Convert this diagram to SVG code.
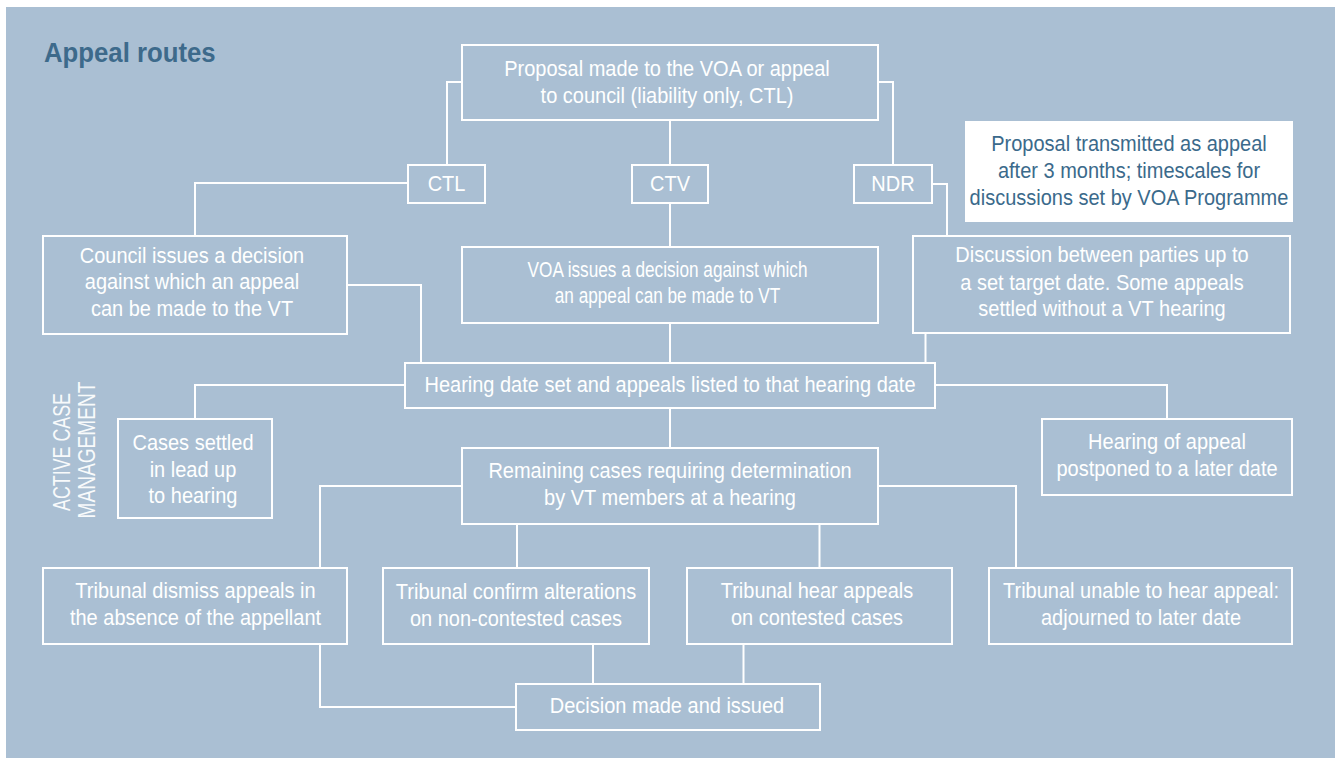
<svg xmlns="http://www.w3.org/2000/svg" width="1335" height="758" viewBox="0 0 1335 758">
<style>
.bg{fill:#aabfd3}
.box{fill:none;stroke:#fff;stroke-width:2}
.note{fill:#fff;stroke:none}
.t{font-family:"Liberation Sans",Arial,sans-serif;font-size:21.5px;fill:#fff;text-anchor:middle}
.nt{fill:#3b6a8b}
.title{font-family:"Liberation Sans",Arial,sans-serif;font-size:28px;font-weight:bold;fill:#3d6a8b}
.side{font-family:"Liberation Sans",Arial,sans-serif;font-size:23px;fill:#fff;text-anchor:middle;opacity:0.92}
.c{fill:none;stroke:#fff;stroke-width:2}
</style>
<rect class="bg" x="6" y="7" width="1329" height="751"/>
<text class="title" transform="translate(44 62) scale(0.92 1)" x="0" y="0">Appeal routes</text>
<g id="side-label">
<text class="side" transform="translate(70 452) rotate(-90)" x="0" y="0" textLength="118" lengthAdjust="spacingAndGlyphs">ACTIVE CASE</text>
<text class="side" transform="translate(95 450) rotate(-90)" x="0" y="0" textLength="137" lengthAdjust="spacingAndGlyphs">MANAGEMENT</text>
</g>
<g id="connectors">
<path class="c" d="M462 82 H447 V165"/>
<path class="c" d="M670 120 V165"/>
<path class="c" d="M878 82 H893 V165"/>
<path class="c" d="M408 183 H195 V236"/>
<path class="c" d="M670 203 V247"/>
<path class="c" d="M932 184 H947 V236"/>
<path class="c" d="M347 285 H421 V363"/>
<path class="c" d="M670 323 V363"/>
<path class="c" d="M925.5 333 V363"/>
<path class="c" d="M405 385 H195 V419"/>
<path class="c" d="M935 385 H1167 V419"/>
<path class="c" d="M670 408 V448"/>
<path class="c" d="M462 486 H320 V568"/>
<path class="c" d="M517 524 V568"/>
<path class="c" d="M819.5 524 V568"/>
<path class="c" d="M878 486 H1016 V568"/>
<path class="c" d="M320 644 V707 H516"/>
<path class="c" d="M593 644 V684"/>
<path class="c" d="M743.5 644 V684"/>
</g>
<g id="proposal">
<rect class="box" x="462" y="45" width="416" height="75"/>
<text class="t" transform="translate(667 0) scale(0.93 1)"><tspan x="0" y="76">Proposal made to the VOA or appeal</tspan><tspan x="0" y="103">to council (liability only, CTL)</tspan></text>
</g>
<g id="ctl">
<rect class="box" x="408" y="165" width="77" height="38"/>
<text class="t" transform="translate(446.5 0) scale(0.93 1)" x="0" y="191">CTL</text>
</g>
<g id="ctv">
<rect class="box" x="632" y="165" width="76" height="38"/>
<text class="t" transform="translate(670 0) scale(0.93 1)" x="0" y="191">CTV</text>
</g>
<g id="ndr">
<rect class="box" x="854" y="165" width="78" height="38"/>
<text class="t" transform="translate(893 0) scale(0.93 1)" x="0" y="191">NDR</text>
</g>
<g id="note">
<rect class="note" x="965" y="121" width="328" height="101"/>
<text class="t nt" transform="translate(1129 0) scale(0.93 1)"><tspan x="0" y="151">Proposal transmitted as appeal</tspan><tspan x="0" y="178">after 3 months; timescales for</tspan><tspan x="0" y="205">discussions set by VOA Programme</tspan></text>
</g>
<g id="council">
<rect class="box" x="43" y="236" width="304" height="98"/>
<text class="t" transform="translate(192 0) scale(0.93 1)"><tspan x="0" y="263">Council issues a decision</tspan><tspan x="0" y="289.5">against which an appeal</tspan><tspan x="0" y="316">can be made to the VT</tspan></text>
</g>
<g id="voa">
<rect class="box" x="462" y="247" width="416" height="76"/>
<text class="t" transform="translate(667.5 0) scale(0.8 1)"><tspan x="0" y="277.5">VOA issues a decision against which</tspan><tspan x="0" y="303.5">an appeal can be made to VT</tspan></text>
</g>
<g id="discussion">
<rect class="box" x="913" y="236" width="377" height="97"/>
<text class="t" transform="translate(1102 0) scale(0.93 1)"><tspan x="0" y="262.5">Discussion between parties up to</tspan><tspan x="0" y="290">a set target date. Some appeals</tspan><tspan x="0" y="316.5">settled without a VT hearing</tspan></text>
</g>
<g id="hearing">
<rect class="box" x="405" y="363" width="530" height="45"/>
<text class="t" transform="translate(670 0) scale(0.93 1)" x="0" y="392">Hearing date set and appeals listed to that hearing date</text>
</g>
<g id="settled">
<rect class="box" x="118" y="419" width="154" height="99"/>
<text class="t" transform="translate(193 0) scale(0.93 1)"><tspan x="0" y="450">Cases settled</tspan><tspan x="0" y="477">in lead up</tspan><tspan x="0" y="503.5">to hearing</tspan></text>
</g>
<g id="postponed">
<rect class="box" x="1042" y="419" width="250" height="76"/>
<text class="t" transform="translate(1167 0) scale(0.93 1)"><tspan x="0" y="449.5">Hearing of appeal</tspan><tspan x="0" y="476">postponed to a later date</tspan></text>
</g>
<g id="remaining">
<rect class="box" x="462" y="448" width="416" height="76"/>
<text class="t" transform="translate(670 0) scale(0.93 1)"><tspan x="0" y="478.5">Remaining cases requiring determination</tspan><tspan x="0" y="505">by VT members at a hearing</tspan></text>
</g>
<g id="dismiss">
<rect class="box" x="43" y="568" width="304" height="76"/>
<text class="t" transform="translate(195.5 0) scale(0.93 1)"><tspan x="0" y="598.5">Tribunal dismiss appeals in</tspan><tspan x="0" y="625.5">the absence of the appellant</tspan></text>
</g>
<g id="confirm">
<rect class="box" x="383" y="568" width="266" height="76"/>
<text class="t" transform="translate(516 0) scale(0.93 1)"><tspan x="0" y="599">Tribunal confirm alterations</tspan><tspan x="0" y="626">on non-contested cases</tspan></text>
</g>
<g id="hear">
<rect class="box" x="687" y="568" width="265" height="76"/>
<text class="t" transform="translate(817 0) scale(0.93 1)"><tspan x="0" y="598.5">Tribunal hear appeals</tspan><tspan x="0" y="625">on contested cases</tspan></text>
</g>
<g id="unable">
<rect class="box" x="989" y="568" width="303" height="76"/>
<text class="t" transform="translate(1141 0) scale(0.93 1)"><tspan x="0" y="598">Tribunal unable to hear appeal:</tspan><tspan x="0" y="625">adjourned to later date</tspan></text>
</g>
<g id="decision">
<rect class="box" x="516" y="684" width="304" height="46"/>
<text class="t" transform="translate(667 0) scale(0.93 1)" x="0" y="713">Decision made and issued</text>
</g>
</svg>
